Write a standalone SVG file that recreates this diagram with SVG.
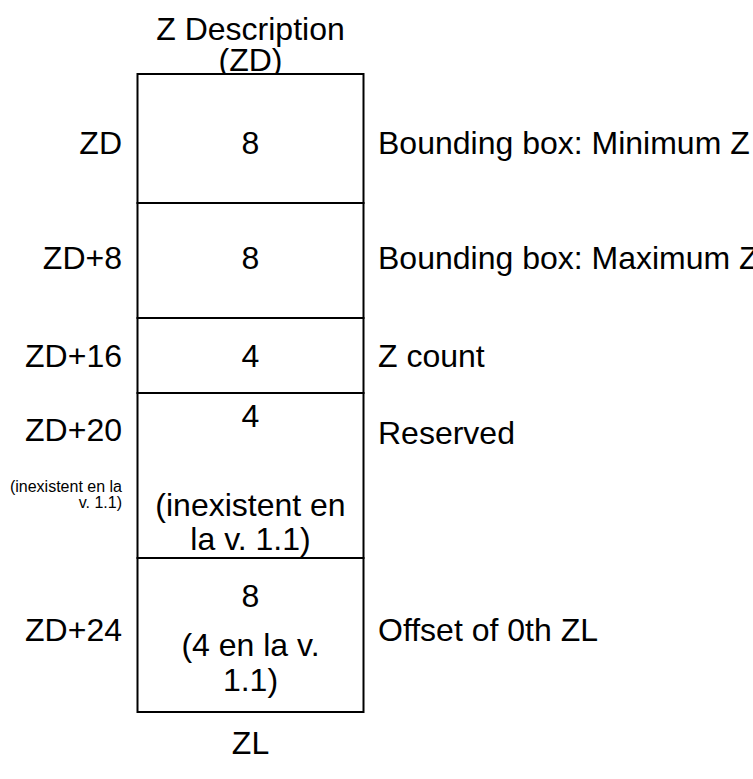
<svg xmlns="http://www.w3.org/2000/svg" width="753" height="779" viewBox="0 0 753 779">
<style>
text{font-family:"Liberation Sans",Arial,sans-serif;fill:#000}
.big{font-size:32px}
.small{font-size:16px}
.c{text-anchor:middle}
.r{text-anchor:end}
.cell{fill:#fff;stroke:#000;stroke-width:2}
</style>
<rect width="753" height="779" fill="#fff"/>
<g id="title">
<text class="big c" x="250.5" y="40">Z Description</text>
<text class="big c" x="250.5" y="71">(ZD)</text>
</g>
<g id="row1">
<rect class="cell" x="137.5" y="74" width="226" height="129"/>
<text class="big r" x="122" y="154">ZD</text>
<text class="big c" x="250.5" y="154">8</text>
<text class="big" x="378" y="154">Bounding box: Minimum Z</text>
</g>
<g id="row2">
<rect class="cell" x="137.5" y="203" width="226" height="115"/>
<text class="big r" x="122" y="269">ZD+8</text>
<text class="big c" x="250.5" y="269">8</text>
<text class="big" x="378" y="269">Bounding box: Maximum Z</text>
</g>
<g id="row3">
<rect class="cell" x="137.5" y="318" width="226" height="75"/>
<text class="big r" x="122" y="367">ZD+16</text>
<text class="big c" x="250.5" y="367">4</text>
<text class="big" x="378" y="367">Z count</text>
</g>
<g id="row4">
<rect class="cell" x="137.5" y="393" width="226" height="165"/>
<text class="big r" x="122" y="441">ZD+20</text>
<text class="small r" x="122" y="492">(inexistent en la</text>
<text class="small r" x="122" y="508">v. 1.1)</text>
<text class="big c" x="250.5" y="427">4</text>
<text class="big c" x="250.5" y="516">(inexistent en</text>
<text class="big c" x="250.5" y="550">la v. 1.1)</text>
<text class="big" x="378" y="444">Reserved</text>
</g>
<g id="row5">
<rect class="cell" x="137.5" y="558" width="226" height="154"/>
<text class="big r" x="122" y="641">ZD+24</text>
<text class="big c" x="250.5" y="607">8</text>
<text class="big c" x="250.5" y="656">(4 en la v.</text>
<text class="big c" x="250.5" y="691">1.1)</text>
<text class="big" x="378" y="641">Offset of 0th ZL</text>
</g>
<g id="footer">
<text class="big c" x="250.5" y="754">ZL</text>
</g>
<g id="connectors"></g>
</svg>
